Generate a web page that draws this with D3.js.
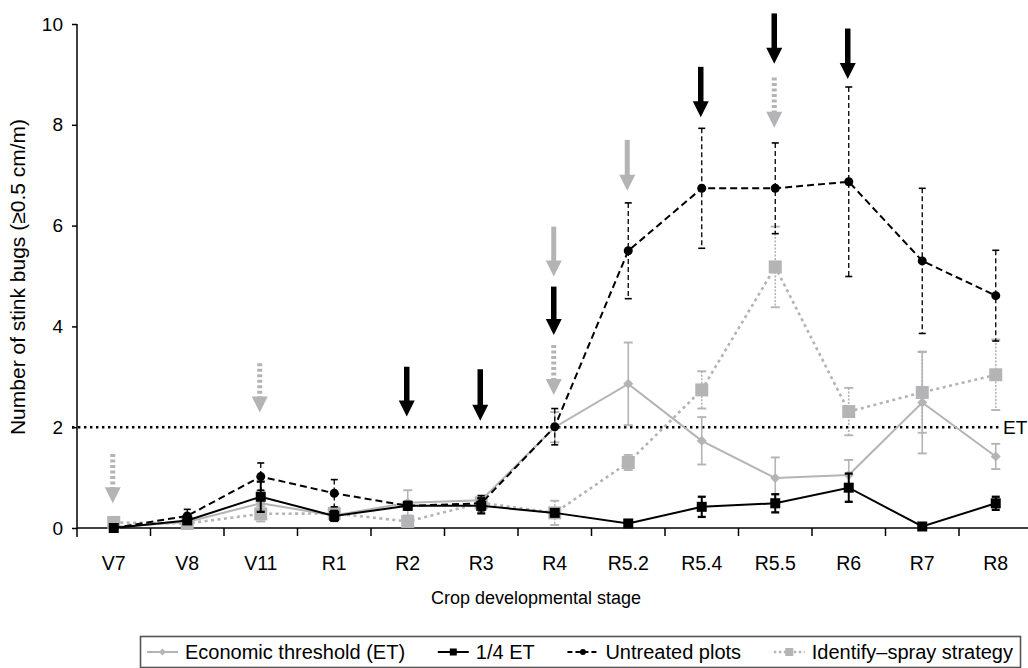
<!DOCTYPE html>
<html><head><meta charset="utf-8">
<script src="https://cdn.jsdelivr.net/npm/d3@7"></script>
<style>body{margin:0;background:#fff}svg{display:block;font-family:"Liberation Sans",Arial,sans-serif}</style>
</head><body><svg id="c" width="1028" height="668"></svg>
<script>
const stages = ["V7","V8","V11","R1","R2","R3","R4","R5.2","R5.4","R5.5","R6","R7","R8"];
const yTicks = [0,2,4,6,8,10];
const etValues   = [0.02,0.12,0.49,0.25,0.50,0.55,2.00,2.86,1.73,0.99,1.05,2.49,1.42];
const etErr      = [0.03,0.05,0.25,0.10,0.25,0.10,0.30,0.82,0.47,0.41,0.30,1.01,0.25];
const quarterValues = [0.00,0.15,0.62,0.24,0.44,0.44,0.30,0.09,0.42,0.49,0.80,0.03,0.49];
const quarterErr    = [0.02,0.05,0.30,0.10,0.08,0.15,0.05,0.05,0.20,0.18,0.28,0.03,0.13];
const untreatedValues = [0.00,0.24,1.02,0.69,0.44,0.49,2.01,5.50,6.74,6.74,6.87,5.30,4.61];
const untreatedErr    = [0.02,0.13,0.27,0.27,0.08,0.15,0.36,0.95,1.19,0.90,1.88,1.44,0.90];
const sprayValues = [0.11,0.09,0.28,0.29,0.13,0.50,0.30,1.30,2.74,5.18,2.31,2.69,3.04];
const sprayErr    = [0.05,0.05,0.15,0.12,0.05,0.05,0.24,0.15,0.37,0.80,0.47,0.80,0.70];
const etThreshold = 2;
// spray-timing arrows: stage, top value, tip value, kind
const arrowStages = ["V7","V11","R2","R3","R4","R4","R4","R5.2","R5.4","R5.5","R5.5","R6"];
const arrowTop    = [1.47,3.27,3.20,3.15,5.98,4.79,3.63,7.70,9.15,10.21,8.94,9.91];
const arrowTip    = [0.49,2.29,2.21,2.13,4.99,3.83,2.64,6.69,8.15,9.21,7.94,8.91];
const arrowKind   = ["spray","spray","quarter","quarter","et","quarter","spray","et","quarter","quarter","spray","quarter"];
const legendLabels = ["Economic threshold (ET)","1/4 ET","Untreated plots","Identify\u2013spray strategy"];

const GREY = "#b4b4b6";
const svg = d3.select("#c");
const x = d3.scaleBand().domain(stages).range([77, 1032.5]).padding(0);
const y = d3.scaleLinear().domain([0,10]).range([528, 24]);
const cx = s => x(s) + x.bandwidth()/2;

// axes
const yAxis = svg.append("g").attr("transform","translate(77,0)")
  .call(d3.axisLeft(y).tickValues(yTicks).tickSize(5).tickSizeOuter(0));
yAxis.select(".domain").attr("d","M0,24V537").attr("stroke","#000").attr("stroke-width",1.5);
yAxis.selectAll(".tick line").attr("stroke-width",1.5);
yAxis.selectAll("text").attr("font-size",19).attr("x",-14).attr("fill","#000");

const xAxis = svg.append("g").attr("transform","translate(0,528)")
  .call(d3.axisBottom(x).tickSize(0).tickSizeOuter(0));
xAxis.select(".domain").attr("d","M77,0H1028").attr("stroke","#000").attr("stroke-width",1.5);
xAxis.selectAll("text").attr("font-size",19.5).attr("y",42).attr("dy",0).attr("fill","#000");
svg.append("g").selectAll("line").data(stages.slice(1)).join("line")
  .attr("x1",d=>x(d)).attr("x2",d=>x(d)).attr("y1",528).attr("y2",536)
  .attr("stroke","#000").attr("stroke-width",1.5);

// axis titles
svg.append("text").attr("transform","translate(25,277) rotate(-90)").attr("text-anchor","middle")
  .attr("font-size",21).text("Number of stink bugs (\u22650.5 cm/m)");
svg.append("text").attr("x",536).attr("y",604).attr("text-anchor","middle")
  .attr("font-size",18).text("Crop developmental stage");

// ET threshold line
svg.append("line").attr("x1",72).attr("x2",1000).attr("y1",y(etThreshold)).attr("y2",y(etThreshold))
  .attr("stroke","#000").attr("stroke-width",2.6).attr("stroke-dasharray","2.4,3.6");
svg.append("text").attr("x",1003).attr("y",y(etThreshold)+7).attr("font-size",19).text("ET");

const series = [
  {vals:etValues, err:etErr, color:GREY, width:2, dash:null, errDash:null, errW:1.6, cap:9, marker:"diamond", ms:5},
  {vals:sprayValues, err:sprayErr, color:GREY, width:2.6, dash:"3,3.5", errDash:"2,1.5", errW:1.6, cap:9, marker:"square", ms:13},
  {vals:quarterValues, err:quarterErr, color:"#000", width:2, dash:null, errDash:null, errW:2, cap:8, marker:"square", ms:10},
  {vals:untreatedValues, err:untreatedErr, color:"#000", width:2, dash:"7,4", errDash:"5,3", errW:1.3, cap:7, marker:"circle", ms:9},
];
const line = d3.line().x((d,i)=>cx(stages[i])).y(d=>y(d));

function drawMarker(g, kind, px, py, s, color){
  if(kind==="circle") g.append("circle").attr("cx",px).attr("cy",py).attr("r",s/2).attr("fill",color);
  else if(kind==="square") g.append("rect").attr("x",px-s/2).attr("y",py-s/2).attr("width",s).attr("height",s).attr("fill",color);
  else g.append("path").attr("d",`M${px},${py-s}L${px+s},${py}L${px},${py+s}L${px-s},${py}Z`).attr("fill",color);
}

series.forEach(sr=>{
  const g = svg.append("g");
  sr.vals.forEach((v,i)=>{
    const px = cx(stages[i]);
    const y1 = y(v+sr.err[i]), y2 = y(Math.max(0,v-sr.err[i]));
    g.append("line").attr("x1",px).attr("x2",px).attr("y1",y1).attr("y2",y2)
      .attr("stroke",sr.color).attr("stroke-width",sr.errW).attr("stroke-dasharray",sr.errDash);
    [y1,y2].forEach(yy=>g.append("line").attr("x1",px-sr.cap/2).attr("x2",px+sr.cap/2).attr("y1",yy).attr("y2",yy)
      .attr("stroke",sr.color).attr("stroke-width",sr.errW+0.3));
  });
  g.append("path").attr("d",line(sr.vals)).attr("fill","none").attr("stroke",sr.color)
    .attr("stroke-width",sr.width).attr("stroke-dasharray",sr.dash);
  sr.vals.forEach((v,i)=>drawMarker(g, sr.marker, cx(stages[i]), y(v), sr.ms, sr.color));
});

// arrows
function arrow(g, px, yTop, yTip, kind){
  const color = kind==="quarter" ? "#000" : GREY;
  const headH = 16, headW = 16, shaftW = kind==="quarter"?5.5:5;
  g.append("line").attr("x1",px).attr("x2",px).attr("y1",yTop).attr("y2",yTip-headH+1)
    .attr("stroke",color).attr("stroke-width",shaftW)
    .attr("stroke-dasharray", kind==="spray" ? "3,2.5" : null);
  g.append("path").attr("d",`M${px-headW/2},${yTip-headH}L${px+headW/2},${yTip-headH}L${px},${yTip}Z`).attr("fill",color);
}
const ag = svg.append("g");
arrowStages.forEach((s,i)=>arrow(ag, cx(s)-1, y(arrowTop[i]), y(arrowTip[i]), arrowKind[i]));

// legend
const lg = svg.append("g");
lg.append("rect").attr("x",140.5).attr("y",636.5).attr("width",880).attr("height",31)
  .attr("fill","#fff").attr("stroke","#555").attr("stroke-width",1.6);
const legStyle = [
  {color:GREY, dash:null, w:2, marker:"diamond", ms:3.5},
  {color:"#000", dash:null, w:2, marker:"square", ms:7},
  {color:"#000", dash:"5,3", w:2, marker:"circle", ms:6},
  {color:GREY, dash:"2.5,2.5", w:2.6, marker:"square", ms:8},
];
const ly = 652, sampleW = 31, textGap = 7, startX = 147, endX = 1013;
const texts = legendLabels.map(t=>lg.append("text").attr("y",ly+7).attr("font-size",20).text(t));
const widths = texts.map(t=>t.node().getComputedTextLength());
const itemGap = (endX - startX - d3.sum(widths) - legendLabels.length*(sampleW+textGap)) / (legendLabels.length-1);
let cur = startX;
legendLabels.forEach((t,i)=>{
  const st = legStyle[i];
  lg.append("line").attr("x1",cur).attr("x2",cur+sampleW).attr("y1",ly).attr("y2",ly)
    .attr("stroke",st.color).attr("stroke-width",st.w).attr("stroke-dasharray",st.dash);
  drawMarker(lg, st.marker, cur+sampleW/2, ly, st.ms, st.color);
  texts[i].attr("x",cur+sampleW+textGap);
  cur += sampleW + textGap + widths[i] + itemGap;
});
</script></body></html>
